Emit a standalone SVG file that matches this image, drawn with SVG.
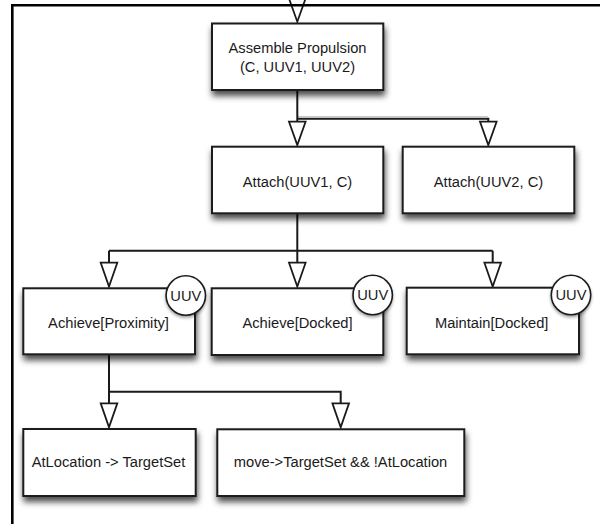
<svg xmlns="http://www.w3.org/2000/svg" width="600" height="524" viewBox="0 0 600 524">
<defs>
<filter id="sh" x="-20%" y="-20%" width="140%" height="150%">
<feDropShadow dx="1" dy="5" stdDeviation="3.2" flood-color="#000" flood-opacity="0.7"/>
</filter>
<filter id="shc" x="-30%" y="-30%" width="160%" height="170%">
<feDropShadow dx="0" dy="2" stdDeviation="1.5" flood-color="#000" flood-opacity="0.35"/>
</filter>
<style>
.box{fill:#fff;stroke:#1a1a1a;stroke-width:2;filter:url(#sh)}
.t{font-family:"Liberation Sans",Arial,sans-serif;font-size:14.7px;fill:#1a1a1a;text-anchor:middle}
.c{fill:#fff;stroke:#1a1a1a;stroke-width:1.6;filter:url(#shc)}
.ln{fill:none;stroke:#1a1a1a;stroke-width:2}
.tri{fill:#fff;stroke:#1a1a1a;stroke-width:1.8;stroke-linejoin:miter}
.fr{fill:none;stroke:#000;stroke-width:2.6}
</style>
</defs>
<rect width="600" height="524" fill="#fff"/>
<g id="connectors">
<line x1="297.3" y1="116.5" x2="488.3" y2="116.5" stroke="#c8c8c8" stroke-width="1"/>
<path class="ln" d="M297.3 90 V122 M297.3 118.8 H488.3 V122"/>
<path class="ln" d="M297.3 213.3 V263 M109 250.7 H492.7 M109 250.7 V263 M492.7 250.7 V263"/>
<path class="ln" d="M109 354.3 V404 M109 391.7 H340.7 V404"/>
<polygon class="tri" points="289,-1.5 305.6,-1.5 297.3,21.7"/>
<polygon class="tri" points="289,121.7 305.6,121.7 297.3,145"/>
<polygon class="tri" points="480,121.7 496.6,121.7 488.3,145"/>
<polygon class="tri" points="100.7,262.7 117.3,262.7 109,286.5"/>
<polygon class="tri" points="289,262.7 305.6,262.7 297.3,286.5"/>
<polygon class="tri" points="484.4,262.7 501,262.7 492.7,286.5"/>
<polygon class="tri" points="100.7,403.3 117.3,403.3 109,427.3"/>
<polygon class="tri" points="332.4,403.3 349,403.3 340.7,427.3"/>
</g>
<path class="fr" d="M12.3 524 V5.3 H600"/>
<g id="assemble">
<rect class="box" x="212" y="23.5" width="171.3" height="66.5"/>
<text class="t" x="297.5" y="53.3">Assemble Propulsion</text>
<text class="t" x="297.5" y="71.7">(C, UUV1, UUV2)</text>
</g>
<g id="attach1">
<rect class="box" x="212" y="146.7" width="171.3" height="66.6"/>
<text class="t" x="297.5" y="186.7">Attach(UUV1, C)</text>
</g>
<g id="attach2">
<rect class="box" x="402.7" y="146.7" width="171.6" height="66.6"/>
<text class="t" x="488.5" y="186.7">Attach(UUV2, C)</text>
</g>
<g id="achieveProximity">
<rect class="box" x="23.3" y="288.3" width="171.7" height="66"/>
<text class="t" x="108.5" y="328.3">Achieve[Proximity]</text>
<circle class="c" cx="185.8" cy="295.5" r="19.7"/>
<text class="t" x="185.8" y="300.8">UUV</text>
</g>
<g id="achieveDocked">
<rect class="box" x="211.7" y="288.3" width="171.6" height="66.7"/>
<text class="t" x="297.5" y="328.3">Achieve[Docked]</text>
<circle class="c" cx="372.7" cy="295" r="19.7"/>
<text class="t" x="372.7" y="300.3">UUV</text>
</g>
<g id="maintainDocked">
<rect class="box" x="406.7" y="287.7" width="172.3" height="66.6"/>
<text class="t" x="491.7" y="328.3">Maintain[Docked]</text>
<circle class="c" cx="571" cy="295" r="19.7"/>
<text class="t" x="571" y="300.3">UUV</text>
</g>
<g id="atLocation">
<rect class="box" x="23.3" y="429" width="172.4" height="67"/>
<text class="t" x="108.5" y="467.3">AtLocation -&gt; TargetSet</text>
</g>
<g id="move">
<rect class="box" x="217.3" y="429.3" width="247" height="66.7"/>
<text class="t" x="340.5" y="467.3">move-&gt;TargetSet &amp;&amp; !AtLocation</text>
</g>
</svg>
